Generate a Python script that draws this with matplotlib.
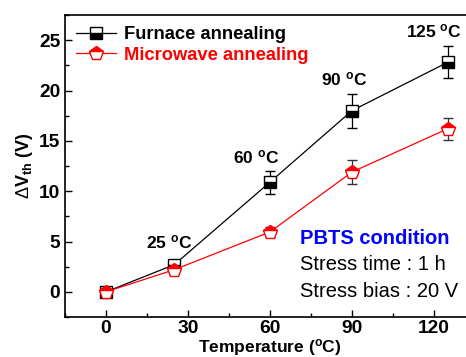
import matplotlib
matplotlib.use('Agg')
import numpy as np
from matplotlib import pyplot as plt
from matplotlib.ticker import MultipleLocator

plt.rcParams['font.family'] = ['Liberation Sans', 'DejaVu Sans']
plt.rcParams['mathtext.fontset'] = 'custom'
plt.rcParams['mathtext.rm'] = 'Liberation Sans'
plt.rcParams['mathtext.bf'] = 'Liberation Sans:bold'
plt.rcParams['mathtext.it'] = 'Liberation Sans:italic'

temps = [0, 25, 60, 90, 125]
furnace = [0.0, 2.7, 10.9, 18.0, 22.8]
furnace_err = [0.1, 0.5, 1.15, 1.7, 1.6]
microwave = [0.0, 2.2, 5.95, 11.9, 16.2]
microwave_err = [0.1, 0.4, 0.5, 1.2, 1.1]
temp_labels = ['25 $^{\\mathbf{o}}$C', '60 $^{\\mathbf{o}}$C', '90 $^{\\mathbf{o}}$C', '125 $^{\\mathbf{o}}$C']

fig = plt.figure(figsize=(4.66, 3.57), dpi=100)
ax = fig.add_axes([65/466, 40/357, 410/466, 302/357])

fstyle = dict(color='black', lw=0.9, marker='s', ms=9, fillstyle='bottom',
              mfc='black', mfcalt='white', mec='black', mew=1)
mstyle = dict(color='red', lw=0.9, marker='p', ms=10.5, fillstyle='top',
              mfc='red', mfcalt='white', mec='red', mew=1)

ax.errorbar(temps, furnace, yerr=furnace_err, capsize=3.5, elinewidth=0.9, capthick=0.9,
            zorder=3, **fstyle)
ax.errorbar(temps, microwave, yerr=microwave_err, capsize=3.5, elinewidth=0.9, capthick=0.9,
            ecolor='#333333', zorder=3, **mstyle)
# legend proxies without error bars
h1, = ax.plot([], [], label='Furnace annealing', **fstyle)
h2, = ax.plot([], [], label='Microwave annealing', **mstyle)

ax.set_xlim(-15, 135)
ax.set_ylim(-2.5, 27.5)
ax.xaxis.set_major_locator(MultipleLocator(30))
ax.xaxis.set_minor_locator(MultipleLocator(15))
ax.yaxis.set_major_locator(MultipleLocator(5))
ax.yaxis.set_minor_locator(MultipleLocator(2.5))
ax.tick_params(which='both', direction='in', top=False, right=False, labelsize=13.8, width=1)
ax.tick_params(which='major', length=5)
ax.tick_params(which='minor', length=3)
ax.tick_params(axis='x', pad=2.5)
for lab in ax.get_xticklabels() + ax.get_yticklabels():
    lab.set_fontweight('bold')
for s in ax.spines.values():
    s.set_linewidth(1.2)

ax.set_xlabel('Temperature ($^{\\mathbf{o}}$C)', fontsize=12.5, fontweight='bold', labelpad=-0.5)
ax.set_ylabel('$\\Delta$V$_{\\mathbf{th}}$ (V)', fontsize=13, fontweight='bold', labelpad=3)

label_pos = [(23, 4.9), (55, 13.4), (87, 21.1), (120, 25.9)]
for (x, y), t in zip(label_pos, temp_labels):
    ax.text(x, y, t, ha='center', va='center', fontsize=12.5, fontweight='bold')

leg = ax.legend(handles=[h1, h2], loc='upper left', frameon=False, handlelength=2.2,
                borderaxespad=0.2, labelspacing=0.2, handletextpad=0.4,
                prop={'weight': 'bold', 'size': 13.2})
leg.get_texts()[1].set_color('red')

ax.text(71, 5.3, 'PBTS condition', color='blue', fontsize=14.5, fontweight='bold', va='center')
ax.text(71, 2.7, 'Stress time : 1 h', fontsize=14.5, va='center')
ax.text(71, 0.0, 'Stress bias : 20 V', fontsize=14.5, va='center')

fig.savefig('out.png', dpi=100)
